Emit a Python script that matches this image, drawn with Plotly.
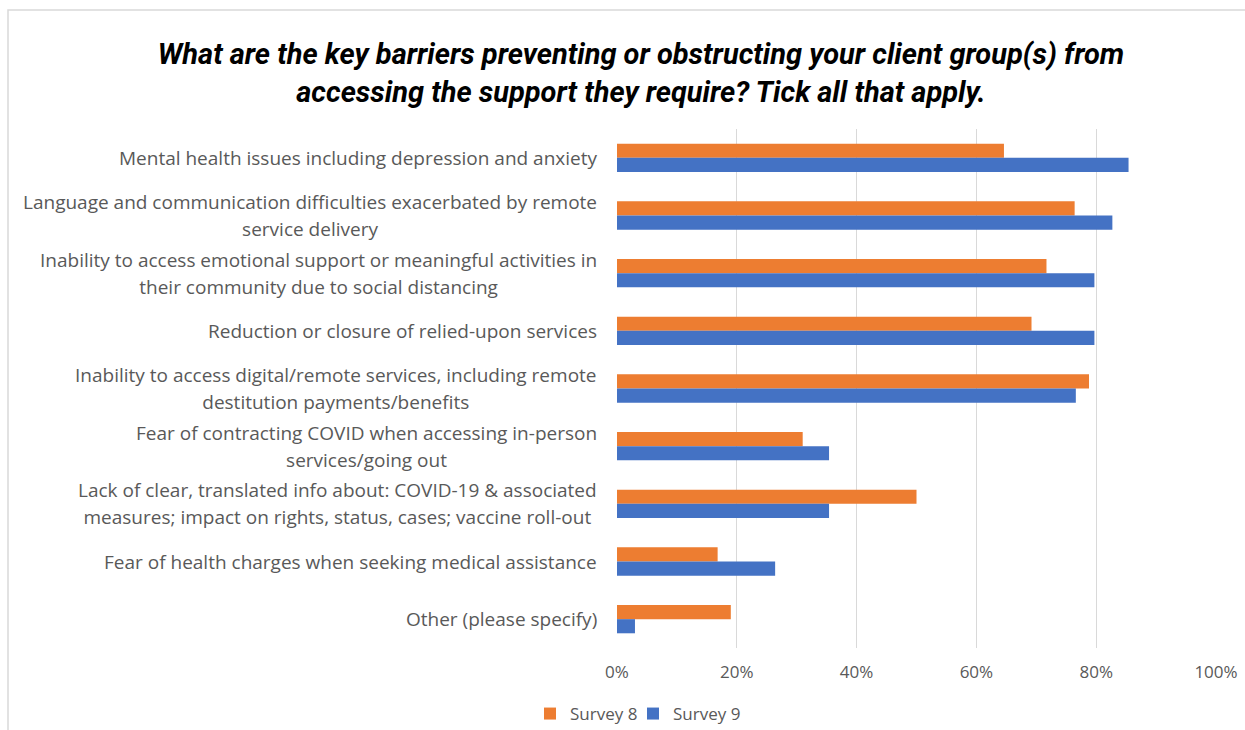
import plotly.graph_objects as go

# Survey responses: share of respondents ticking each barrier (%)
categories = [
    "Mental health issues including depression and anxiety",
    "Language and communication difficulties exacerbated by remote<br>service delivery",
    "Inability to access emotional support or meaningful activities in<br>their community due to social distancing",
    "Reduction or closure of relied-upon services",
    "Inability to access digital/remote services, including remote<br>destitution payments/benefits",
    "Fear of contracting COVID when accessing in-person<br>services/going out",
    "Lack of clear, translated info about: COVID-19 & associated<br>measures; impact on rights, status, cases; vaccine roll-out",
    "Fear of health charges when seeking medical assistance",
    "Other (please specify)",
]
survey8 = [64.6, 76.4, 71.7, 69.2, 78.8, 31.0, 50.0, 16.8, 19.0]
survey9 = [85.4, 82.7, 79.7, 79.7, 76.6, 35.4, 35.4, 26.4, 3.0]
x_ticks = [0, 20, 40, 60, 80, 100]

ORANGE = "#ED7D31"
BLUE = "#4472C4"
GREY_TEXT = "#595959"
W, H = 1245, 730
L, R, T, B = 617, 29, 129, 82
pw, ph = W - L - R, H - T - B

fig = go.Figure()
fig.add_trace(go.Bar(y=categories, x=survey8, name="Survey 8", orientation="h",
                     marker=dict(color=ORANGE, line=dict(width=0)), legend="legend"))
fig.add_trace(go.Bar(y=categories, x=survey9, name="Survey 9", orientation="h",
                     marker=dict(color=BLUE, line=dict(width=0)), legend="legend2"))

# Category labels: right-aligned block with lines centred inside it.
# The base font size sets the line pitch; the span sets the glyph size.
LABEL_SIZE = 19
for cat in categories:
    text = "<br>".join(f"<span style='font-size:{LABEL_SIZE}px'>{ln}</span>" for ln in cat.split("<br>"))
    fig.add_annotation(x=-18 / pw, xref="paper", y=cat, yref="y",
                       text=text, showarrow=False, xanchor="right", yanchor="middle",
                       align="center",
                       font=dict(family="Open Sans, sans-serif", size=20.8, color=GREY_TEXT))

# Outer chart border (top and left edges visible)
fig.add_shape(type="rect", xref="paper", yref="paper",
              x0=(8 - L) / pw, x1=(W + 20 - L) / pw,
              y0=(H - B - (H + 20)) / ph, y1=(H - B - 10) / ph,
              line=dict(color="#d9d9d9", width=1.5), fillcolor="rgba(0,0,0,0)", layer="below")

legend_style = dict(orientation="h", xref="container", xanchor="left",
                    yref="container", y=1 - 714 / H, yanchor="middle",
                    bgcolor="rgba(0,0,0,0)",
                    font=dict(family="Open Sans, sans-serif", size=17, color=GREY_TEXT))

fig.update_layout(
    width=W, height=H,
    margin=dict(l=L, r=R, t=T, b=B, autoexpand=False),
    paper_bgcolor="white", plot_bgcolor="white",
    barmode="group", bargap=0.51, bargroupgap=0,
    title=dict(
        text="What are the key barriers preventing or obstructing your client group(s) from<br>accessing the support they require? Tick all that apply.",
        x=641 / W, xanchor="center", xref="container",
        y=1 - 64 / H, yanchor="top", yref="container",
        font=dict(family="Roboto, sans-serif", size=29, color="black", weight="bold", style="italic"),
    ),
    xaxis=dict(range=[0, 100], tickvals=x_ticks, ticktext=[f"{v}%" for v in x_ticks],
               showgrid=True, gridcolor="#d9d9d9", gridwidth=1, zeroline=False, showline=False,
               ticks="", tickfont=dict(family="Open Sans, sans-serif", size=17, color=GREY_TEXT),
               ticklabelstandoff=12, fixedrange=True),
    yaxis=dict(autorange="reversed", showticklabels=False, showgrid=False, zeroline=False,
               showline=False, ticks=""),
    legend=dict(x=530 / W, **legend_style),
    legend2=dict(x=633 / W, **legend_style),
    showlegend=True,
)

fig.write_html("out.html")
